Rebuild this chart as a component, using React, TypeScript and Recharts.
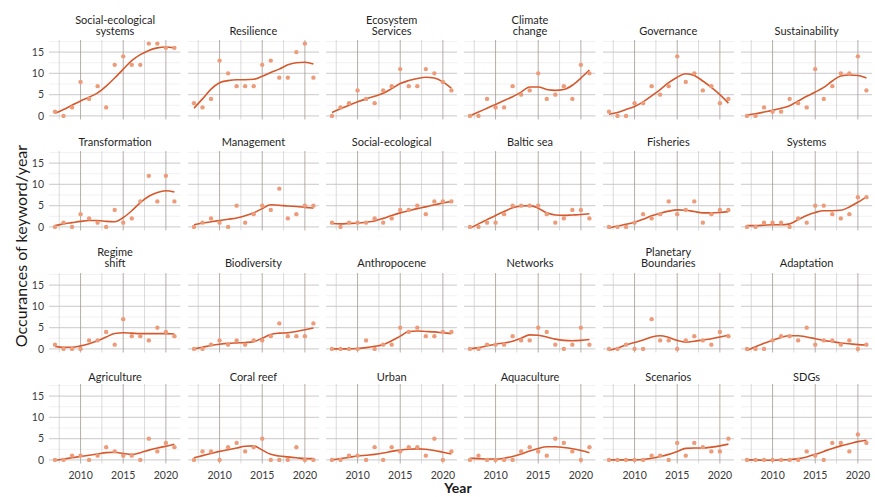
import { ComposedChart, Scatter, Line, XAxis, YAxis, ReferenceLine } from "recharts"

const years = [2007, 2008, 2009, 2010, 2011, 2012, 2013, 2014, 2015, 2016, 2017, 2018, 2019, 2020, 2021]
const xTicks = [2010, 2015, 2020]
const xMinor = [2007.5, 2012.5, 2017.5]
const yTicks = [0, 5, 10, 15]
const yMinor = [2.5, 7.5, 12.5, 17.5]

const keywords = [
  "Social-ecological\nsystems", "Resilience", "Ecosystem\nServices", "Climate\nchange", "Governance", "Sustainability",
  "Transformation", "Management", "Social-ecological", "Baltic sea", "Fisheries", "Systems",
  "Regime\nshift", "Biodiversity", "Anthropocene", "Networks", "Planetary\nBoundaries", "Adaptation",
  "Agriculture", "Coral reef", "Urban", "Aquaculture", "Scenarios", "SDGs",
]

// yearly counts (dots)
const socialEcologicalSystems = [1, 0, 2, 8, 4, 7, 2, 12, 14, 12, 12, 17, 17, 16, 16]
const resilience = [3, 2, 4, 13, 10, 7, 7, 7, 12, 13, 9, 9, 15, 17, 9]
const ecosystemServices = [0, 2, 3, 6, 4, 3, 6, 7, 11, 7, 7, 11, 10, 8, 6]
const climateChange = [0, 0, 4, 2, 2, 7, 5, 6, 10, 4, 5, 7, 4, 12, 10]
const governance = [1, 0, 0, 3, 3, 7, 5, 7, 14, 8, 10, 6, 7, 3, 4]
const sustainability = [0, 0, 2, 1, 1, 4, 3, 2, 11, 4, 7, 10, 10, 14, 6]
const transformation = [0, 1, 0, 3, 2, 1, 0, 4, 1, 2, 6, 12, 6, 12, 6]
const management = [0, 1, 2, 1, 0, 5, 1, 3, 5, 4, 9, 2, 3, 5, 5]
const socialEcological = [1, 0, 1, 1, 1, 2, 1, 2, 4, 4, 5, 3, 6, 6, 6]
const balticSea = [0, 0, 1, 1, 3, 5, 5, 5, 5, 3, 1, 2, 4, 4, 2]
const fisheries = [0, 0, 0, 1, 3, 2, 3, 6, 3, 4, 6, 1, 3, 4, 4]
const systems = [0, 0, 1, 1, 1, 0, 2, 1, 5, 5, 3, 2, 3, 7, 7]
const regimeShift = [1, 0, 0, 0, 2, 2, 4, 1, 7, 3, 3, 2, 5, 4, 3]
const biodiversity = [0, 0, 1, 2, 1, 2, 1, 2, 2, 3, 6, 3, 3, 3, 6]
const anthropocene = [0, 0, 0, 0, 2, 0, 1, 1, 5, 4, 5, 3, 3, 4, 4]
const networks = [0, 0, 1, 1, 1, 3, 2, 2, 5, 4, 1, 0, 1, 5, 1]
const planetaryBoundaries = [0, 0, 1, 0, 0, 7, 2, 2, 0, 2, 3, 2, 1, 4, 3]
const adaptation = [0, 0, 0, 2, 3, 3, 2, 5, 1, 2, 2, 1, 2, 0, 1]
const agriculture = [0, 0, 1, 1, 0, 1, 3, 2, 1, 1, 0, 5, 2, 4, 3]
const coralReef = [0, 2, 2, 0, 3, 4, 2, 3, 5, 0, 0, 0, 3, 0, 0]
const urban = [0, 0, 1, 1, 0, 3, 0, 3, 2, 3, 3, 1, 5, 0, 2]
const aquaculture = [0, 1, 0, 0, 0, 0, 2, 3, 2, 1, 5, 4, 2, 0, 3]
const scenarios = [0, 0, 0, 0, 0, 1, 1, 0, 4, 1, 4, 3, 2, 2, 5]
const sdgs = [0, 0, 0, 0, 0, 0, 0, 2, 1, 0, 4, 4, 2, 6, 4]

// smoothed trend
const socialEcologicalSystemsFit = [0.6, 1.5, 2.5, 3.5, 4.4, 5.4, 7.0, 8.9, 11.0, 13.0, 14.4, 15.4, 16.0, 16.2, 16.0]
const resilienceFit = [1.8, 4.0, 6.3, 7.8, 8.3, 8.5, 8.5, 8.6, 9.3, 10.2, 11.0, 12.0, 12.5, 12.6, 12.2]
const ecosystemServicesFit = [0.8, 1.7, 2.5, 3.3, 4.0, 4.6, 5.3, 6.4, 7.6, 8.3, 8.8, 9.1, 8.9, 8.0, 6.5]
const climateChangeFit = [0.0, 0.9, 1.8, 2.7, 3.6, 4.5, 5.6, 6.8, 6.8, 6.2, 6.0, 6.2, 7.2, 8.9, 10.8]
const governanceFit = [0.4, 0.8, 1.5, 2.2, 3.3, 4.7, 6.2, 7.8, 9.1, 9.9, 9.5, 8.2, 6.7, 5.0, 3.0]
const sustainabilityFit = [0.2, 0.5, 0.9, 1.3, 1.8, 2.4, 3.5, 4.6, 5.6, 6.7, 8.2, 9.4, 9.6, 9.5, 8.9]
const transformationFit = [0.3, 0.7, 1.0, 1.3, 1.5, 1.5, 1.3, 1.2, 2.2, 3.8, 5.7, 7.2, 8.1, 8.5, 8.2]
const managementFit = [0.5, 0.9, 1.2, 1.5, 1.8, 2.1, 2.6, 3.3, 4.3, 5.2, 5.1, 4.9, 4.8, 4.6, 4.4]
const socialEcologicalFit = [0.8, 0.7, 0.8, 0.9, 1.1, 1.4, 2.0, 2.7, 3.3, 3.8, 4.3, 4.7, 5.2, 5.6, 6.0]
const balticSeaFit = [-0.3, 0.7, 1.7, 2.7, 3.6, 4.5, 4.9, 5.0, 4.4, 3.3, 2.8, 2.7, 2.8, 2.9, 3.1]
const fisheriesFit = [-0.3, 0.2, 0.6, 1.1, 1.8, 2.6, 3.2, 3.7, 4.0, 3.9, 3.6, 3.3, 3.3, 3.4, 3.6]
const systemsFit = [0.3, 0.3, 0.4, 0.5, 0.5, 0.7, 1.7, 2.7, 3.4, 3.8, 3.8, 3.9, 4.7, 5.8, 7.0]
const regimeShiftFit = [0.6, 0.4, 0.4, 0.7, 1.2, 1.9, 2.8, 3.6, 3.8, 3.7, 3.6, 3.6, 3.6, 3.6, 3.5]
const biodiversityFit = [0.0, 0.4, 0.8, 1.1, 1.3, 1.4, 1.5, 1.7, 2.5, 3.4, 3.7, 3.8, 4.1, 4.5, 4.9]
const anthropoceneFit = [0.0, 0.0, 0.0, 0.1, 0.3, 0.6, 1.0, 1.9, 3.0, 4.1, 4.2, 4.1, 4.0, 3.8, 3.6]
const networksFit = [0.0, 0.3, 0.7, 1.1, 1.4, 1.8, 2.5, 3.3, 3.2, 2.8, 2.3, 2.0, 1.9, 2.0, 2.2]
const planetaryBoundariesFit = [-0.4, 0.2, 0.9, 1.5, 2.1, 2.8, 3.1, 2.7, 2.0, 1.6, 1.8, 2.1, 2.4, 2.8, 3.2]
const adaptationFit = [-0.4, 0.5, 1.3, 2.0, 2.7, 3.1, 3.1, 2.8, 2.4, 2.0, 1.7, 1.4, 1.2, 1.0, 0.9]
const agricultureFit = [-0.1, 0.2, 0.5, 0.8, 1.1, 1.4, 1.7, 1.8, 1.5, 1.3, 1.7, 2.3, 2.8, 3.2, 3.7]
const coralReefFit = [0.5, 1.0, 1.5, 2.0, 2.4, 2.8, 3.2, 3.3, 2.3, 1.3, 0.9, 0.7, 0.5, 0.3, 0.3]
const urbanFit = [0.0, 0.3, 0.6, 0.9, 1.1, 1.3, 1.6, 2.0, 2.3, 2.5, 2.6, 2.5, 2.2, 1.8, 1.4]
const aquacultureFit = [0.4, 0.3, 0.2, 0.2, 0.4, 0.8, 1.4, 2.1, 2.7, 3.1, 3.1, 2.9, 2.6, 2.2, 1.7]
const scenariosFit = [0.0, 0.0, 0.0, 0.0, 0.1, 0.4, 0.8, 1.3, 2.0, 2.7, 2.8, 2.8, 3.0, 3.3, 3.7]
const sdgsFit = [0.0, 0.0, -0.1, -0.1, 0.0, 0.1, 0.3, 0.7, 1.3, 2.0, 2.7, 3.3, 3.8, 4.3, 4.6]

const counts = [
  socialEcologicalSystems, resilience, ecosystemServices, climateChange, governance, sustainability,
  transformation, management, socialEcological, balticSea, fisheries, systems,
  regimeShift, biodiversity, anthropocene, networks, planetaryBoundaries, adaptation,
  agriculture, coralReef, urban, aquaculture, scenarios, sdgs,
]
const fits = [
  socialEcologicalSystemsFit, resilienceFit, ecosystemServicesFit, climateChangeFit, governanceFit, sustainabilityFit,
  transformationFit, managementFit, socialEcologicalFit, balticSeaFit, fisheriesFit, systemsFit,
  regimeShiftFit, biodiversityFit, anthropoceneFit, networksFit, planetaryBoundariesFit, adaptationFit,
  agricultureFit, coralReefFit, urbanFit, aquacultureFit, scenariosFit, sdgsFit,
]

const FONT = "Lato, 'Open Sans', sans-serif"
const PLOT_W = 131.4
const PLOT_H = 79.5
const COL_LEFT = 49.4
const COL_STEP = 138.3
const ROW_TOP = [40.1, 151.1, 273.4, 384.4]
const TITLE_Y = [30.7, 141.7, 262.3, 376.7] // centre of last title line
const Y_AXIS_W = 30
const X_AXIS_H = 22

const DOT = "#EC9C7A"
const LINE = "#D6592D"
const tickStyle = { fontSize: 10.5, fill: "#3a3a3a", fontFamily: FONT }

function Panel({ index }: { index: number }) {
  const row = Math.floor(index / 6)
  const col = index % 6
  const data = years.map((year, i) => ({ year, count: counts[index][i], fit: fits[index][i] }))
  const left = COL_LEFT + col * COL_STEP
  const top = ROW_TOP[row]
  const lines = keywords[index].split("\n")
  const lh = 11
  return (
    <>
      <div
        style={{
          position: "absolute",
          left,
          width: PLOT_W,
          top: TITLE_Y[row] - lh * (lines.length - 0.5),
          lineHeight: `${lh}px`,
          fontSize: 11,
          textAlign: "center",
          color: "#1f1f1f",
          whiteSpace: "pre",
        }}
      >
        {keywords[index]}
      </div>
      <div style={{ position: "absolute", left: left - Y_AXIS_W, top }}>
        <ComposedChart
          width={PLOT_W + Y_AXIS_W}
          height={PLOT_H + X_AXIS_H}
          data={data}
          margin={{ top: 0, right: 0, bottom: 0, left: 0 }}
        >
          <XAxis
            dataKey="year"
            type="number"
            domain={[2006.3, 2021.7]}
            ticks={xTicks}
            height={X_AXIS_H}
            axisLine={false}
            tickLine={false}
            allowDataOverflow
            tick={row === 3 ? tickStyle : false}
          />
          <YAxis
            type="number"
            domain={[-0.85, 17.85]}
            ticks={yTicks}
            width={Y_AXIS_W}
            axisLine={false}
            tickLine={false}
            tickSize={3}
            tickMargin={2}
            allowDataOverflow
            tick={col === 0 ? tickStyle : false}
          />
          {yMinor.map((v) => (
            <ReferenceLine key={"ym" + v} y={v} stroke="#ebebeb" strokeWidth={0.7} />
          ))}
          {yTicks.map((v) => (
            <ReferenceLine key={"y" + v} y={v} stroke="#d4d4d4" strokeWidth={1.1} />
          ))}
          {xMinor.map((v) => (
            <ReferenceLine key={"xm" + v} x={v} stroke="#c2c2c2" strokeWidth={0.6} />
          ))}
          {xTicks.map((v) => (
            <ReferenceLine key={"x" + v} x={v} stroke="#a39b95" strokeWidth={0.8} />
          ))}
          <Scatter
            dataKey="count"
            isAnimationActive={false}
            shape={(p: any) => <circle cx={p.cx} cy={p.cy} r={2.2} fill={DOT} />}
          />
          <Line
            dataKey="fit"
            type="monotone"
            stroke={LINE}
            strokeWidth={1.6}
            dot={false}
            activeDot={false}
            isAnimationActive={false}
          />
        </ComposedChart>
      </div>
    </>
  )
}

export default function App() {
  return (
    <div
      style={{
        position: "absolute",
        left: 0,
        top: 0,
        width: 875,
        height: 497,
        overflow: "hidden",
        background: "#fff",
        fontFamily: FONT,
      }}
    >
      {keywords.map((_, i) => (
        <Panel key={i} index={i} />
      ))}
      <div
        style={{
          position: "absolute",
          left: 20,
          top: 246,
          transform: "translate(-50%, -50%) rotate(-90deg)",
          whiteSpace: "nowrap",
          fontSize: 16,
          color: "#1a1a1a",
        }}
      >
        Occurances of keyword/year
      </div>
      <div
        style={{
          position: "absolute",
          left: 458,
          top: 480,
          transform: "translateX(-50%)",
          fontSize: 14,
          lineHeight: "15px",
          fontWeight: 700,
          color: "#1a1a1a",
        }}
      >
        Year
      </div>
    </div>
  )
}
